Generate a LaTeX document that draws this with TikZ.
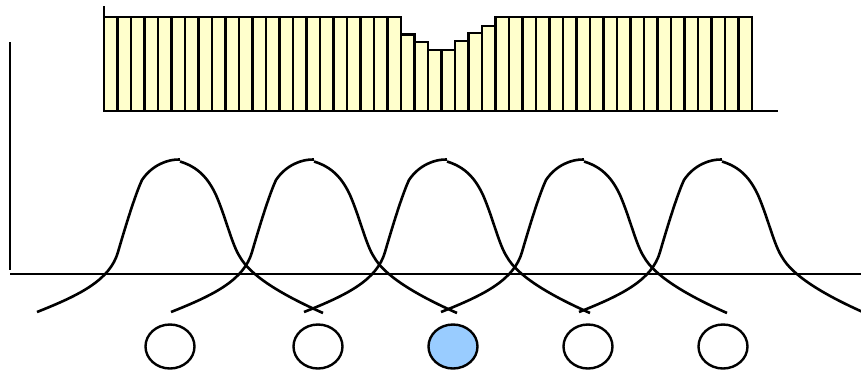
\documentclass[tikz,border=0pt]{standalone}
\usetikzlibrary{shapes.geometric}
\definecolor{barfill}{HTML}{FFFFCC}
\definecolor{selfill}{HTML}{99CCFF}
\tikzset{
  axisline/.style={line width=2.4pt},
  barbox/.style={draw=black, fill=barfill, line width=2.4pt},
  bellcurve/.style={line width=2.6pt, line join=round},
  unit/.style={ellipse, draw=black, line width=2.4pt, minimum width=49pt, minimum height=44pt, inner sep=0pt, fill=white},
}
\begin{document}
\begin{tikzpicture}[x=1pt, y=-1pt]
\useasboundingbox (0,0) rectangle (861,372);
\clip (0,0) rectangle (861,372);

% bar chart: 48 bars, a dip in the middle
\foreach \top [count=\i from 0] in {17,17,17,17,17,17,17,17,17,17,17,17,17,17,17,17,17,17,17,17,17,17,
  34.5,42,50,50,41,33,26,
  17,17,17,17,17,17,17,17,17,17,17,17,17,17,17,17,17,17,17}
{
  \pgfmathsetmacro{\xl}{104+13.5*\i}
  \draw[barbox] (\xl,\top) rectangle (\xl+13.5,111);
}
\coordinate (bartick) at (104,6);
\coordinate (barorigin) at (104,111);
\coordinate (barend) at (778,111);
\draw[axisline] (bartick) -- (104,17);
\draw[axisline] (barorigin) -- (barend);

% axes
\coordinate (ytop) at (10,42);
\coordinate (ybot) at (10,270);
\coordinate (xleft) at (10,274);
\coordinate (xright) at (861,274);
\draw[axisline] (ytop) -- (ybot);
\draw[axisline] (xleft) -- (xright);

% tuning curves, each drawn as a left and a right half
\foreach \p in {180,314,447,584,722}{
  \begin{scope}[xshift=\p pt]
    \draw[bellcurve] (-143,312)
      .. controls (-100,295) and (-70,280) .. (-62,252)
      .. controls (-55,228) and (-45,195) .. (-38,180)
      .. controls (-28,165) and (-12,159) .. (0,159.5);
    \draw[bellcurve] (0,161.5)
      .. controls (18,167) and (28,178) .. (36,195)
      .. controls (46,218) and (52,245) .. (60,257)
      .. controls (70,275) and (100,294) .. (143,313);
  \end{scope}
}

% units
\node[unit] (u1) at (170,346.5) {};
\node[unit] (u2) at (318,346.5) {};
\node[unit, fill=selfill] (u3) at (453,346.5) {};
\node[unit] (u4) at (588,346.5) {};
\node[unit] (u5) at (723,346.5) {};
\end{tikzpicture}
\end{document}
